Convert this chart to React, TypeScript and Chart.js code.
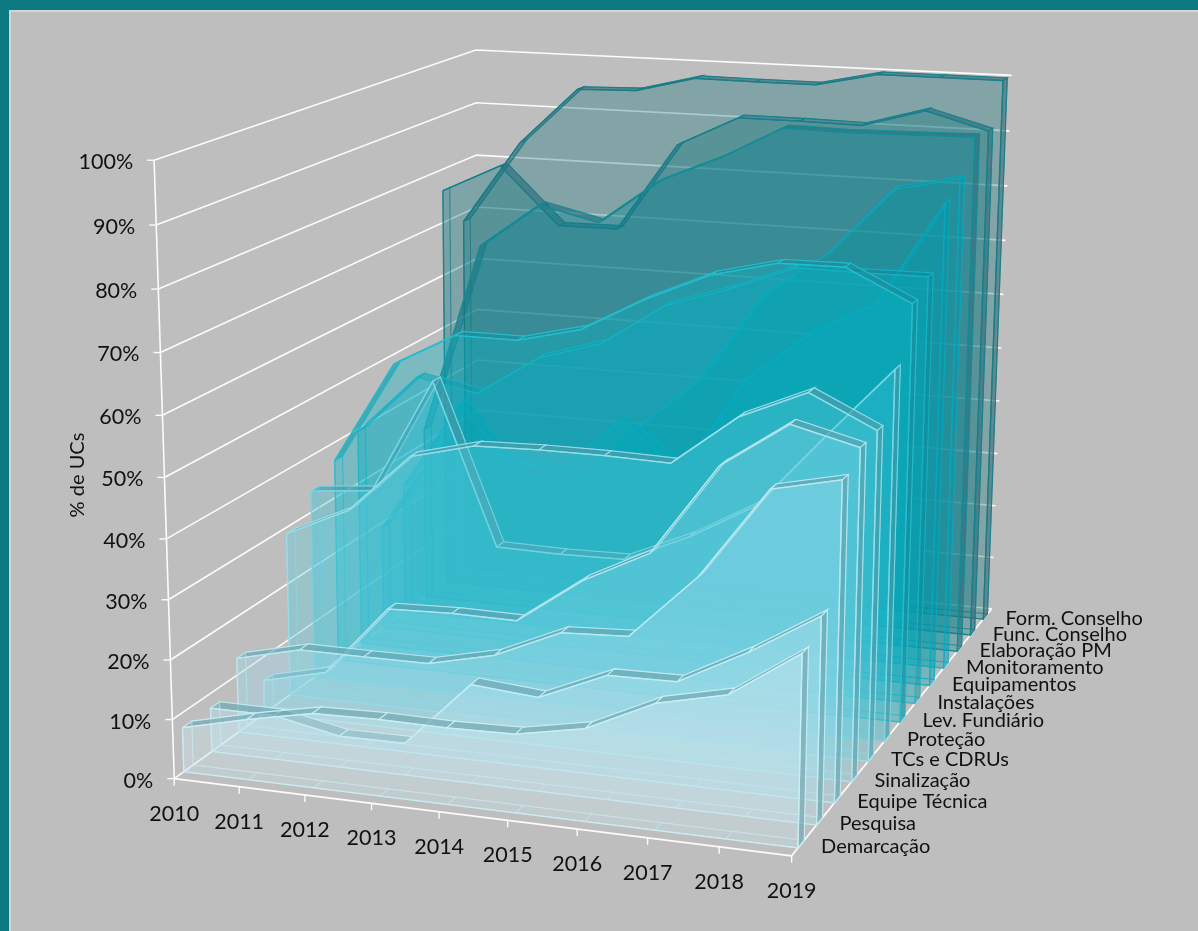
import React, { useEffect, useRef } from "react";
import { Chart, registerables } from "chart.js";

Chart.register(...registerables);

// Years on the front axis and depth-axis categories, front to back.
const years = ["2010", "2011", "2012", "2013", "2014", "2015", "2016", "2017", "2018", "2019"];
const percentTicks = [0, 10, 20, 30, 40, 50, 60, 70, 80, 90, 100];

const demarcacao = [7.5, 10.2, 12.5, 12.8, 12.7, 13, 15.2, 20.6, 23.2, 31];
const pesquisa = [7.5, 7.5, 5.3, 5.4, 16.6, 15.7, 20.6, 20.8, 26.8, 33.8];
const equipeTecnica = [12.9, 15.6, 15.6, 15.7, 18.3, 23.3, 23.9, 34.9, 50.1, 52.6];
const sinalizacao = [5.8, 8.5, 20.8, 21.2, 21.1, 29.1, 34.8, 50.3, 58, 55.2];
const tcsCdrus = [28.9, 34, 44.4, 47.2, 47.5, 47.5, 47.2, 55.9, 60.8, 55.5];
const protecao = [33.8, 34.9, 55, 27, 26.8, 27, 32, 38.4, 51, 63.2];
const levFundiario = [36.7, 54.9, 60.8, 60.8, 63.5, 69.5, 74.4, 77.1, 77.2, 71.9];
const instalacoes = [39.5, 50.3, 48.3, 55.5, 58.9, 66.3, 70, 74.4, 74.3, 74.4];
const equipamentos = [19, 35.4, 34.7, 32.5, 42.9, 34.5, 52, 61, 66.8, 85];
const monitoramento = [24.4, 41, 27.2, 28.6, 39.2, 48.9, 65, 73, 84.9, 87.4];
const elaboracaoPm = [32.6, 68.2, 76.4, 73.9, 82.1, 86.9, 92.8, 92.6, 92.8, 93];
const funcConselho = [76, 81.3, 70.8, 70.9, 87, 92.5, 92.5, 92.3, 95.5, 92.5];
const formConselho = [68.4, 84, 94.6, 94.9, 97.7, 97.6, 97.6, 100, 100, 100];

const seriesNames = [
  "Demarcação", "Pesquisa", "Equipe Técnica", "Sinalização", "TCs e CDRUs", "Proteção",
  "Lev. Fundiário", "Instalações", "Equipamentos", "Monitoramento", "Elaboração PM",
  "Func. Conselho", "Form. Conselho",
];
const seriesValues = [
  demarcacao, pesquisa, equipeTecnica, sinalizacao, tcsCdrus, protecao, levFundiario,
  instalacoes, equipamentos, monitoramento, elaboracaoPm, funcConselho, formConselho,
];

// Face tints, edge tints and roof tints per series, front to back.
const faceRgb = [
  "205,232,240", "185,228,238", "160,222,234", "130,215,230", "95,205,222", "60,195,215", "10,180,200",
  "0,170,190", "0,160,180", "0,150,168", "5,130,145", "15,120,130", "30,120,125",
];
const edgeRgb = [
  "200,238,245", "195,236,243", "185,232,240", "175,228,238", "150,222,234", "120,215,228", "35,190,205",
  "20,185,200", "0,175,195", "0,175,195", "20,140,150", "20,130,140", "25,125,135",
];
const roofRgb = [
  "105,160,170", "100,160,170", "95,160,172", "90,160,172", "80,155,170", "70,150,165", "30,140,155",
  "20,135,150", "10,150,170", "10,150,170", "40,110,125", "50,105,120", "50,105,120",
];

const WIDTH = 1198;
const HEIGHT = 931;

// Perspective calibration of the plot cube: [pixel x, pixel y, year axis, depth axis, value axis].
const cubeCorners = [
  [175, 772, 0, 0, 0],
  [793, 861, 1, 0, 0],
  [992, 603, 1, 1, 0],
  [477, 565, 0, 1, 0],
  [152, 162, 0, 0, 1],
  [479, 47, 0, 1, 1],
  [1010, 77, 1, 1, 1],
];

function solve(a: number[][], b: number[]) {
  const n = b.length;
  const m = a.map((r, i) => [...r, b[i]]);
  for (let c = 0; c < n; c++) {
    let p = c;
    for (let r = c + 1; r < n; r++) if (Math.abs(m[r][c]) > Math.abs(m[p][c])) p = r;
    [m[c], m[p]] = [m[p], m[c]];
    for (let r = 0; r < n; r++) {
      if (r === c) continue;
      const f = m[r][c] / m[c][c];
      for (let k = c; k <= n; k++) m[r][k] -= f * m[c][k];
    }
  }
  return m.map((r, i) => r[n] / r[i]);
}

function fitCamera() {
  const rows: number[][] = [];
  const rhs: number[] = [];
  for (const [px, py, u, v, s] of cubeCorners) {
    const x = px / 1000;
    const y = py / 1000;
    rows.push([u, v, s, 1, 0, 0, 0, 0, -x * u, -x * v, -x * s]);
    rhs.push(x);
    rows.push([0, 0, 0, 0, u, v, s, 1, -y * u, -y * v, -y * s]);
    rhs.push(y);
  }
  const ata = Array.from({ length: 11 }, (_, i) =>
    Array.from({ length: 11 }, (_, j) => rows.reduce((t, r) => t + r[i] * r[j], 0))
  );
  const atb = Array.from({ length: 11 }, (_, i) => rows.reduce((t, r, k) => t + r[i] * rhs[k], 0));
  return solve(ata, atb);
}

const cam = fitCamera();

// Maps (year fraction, depth fraction, value fraction) onto the hidden pixel-space scales.
function project(u: number, v: number, s: number) {
  const w = cam[8] * u + cam[9] * v + cam[10] * s + 1;
  return {
    x: (1000 * (cam[0] * u + cam[1] * v + cam[2] * s + cam[3])) / w,
    y: (1000 * (cam[4] * u + cam[5] * v + cam[6] * s + cam[7])) / w,
  };
}

const count = years.length - 1;
const seriesCount = seriesNames.length;

function buildDatasets() {
  const out: any[] = [];
  let order = 100000;
  const poly = (label: string, pts: any[], fillColor: string | null, stroke: string, width: number) => {
    out.push({
      label,
      data: pts,
      fill: fillColor ? "shape" : false,
      backgroundColor: fillColor ?? "transparent",
      borderColor: stroke,
      borderWidth: width,
      pointRadius: 0,
      tension: 0,
      order: order--,
    });
  };
  const white = "rgba(255,255,255,0.95)";

  // Wall gridlines.
  percentTicks.forEach((t) => {
    const s = t / 100;
    poly(`parede ${t}`, [project(0, 0, s), project(0, 1, s), project(1, 1, s)], null, white, 1.6);
  });
  poly("eixo valores", [project(0, 0, 0), project(0, 0, 1)], null, white, 1.6);
  poly("eixo anos", [project(0, 0, 0), project(1, 0, 0)], null, white, 1.8);
  poly("eixo series", [project(1, 0, 0), project(1, 1, 0)], null, white, 1.8);
  percentTicks.forEach((t) => {
    const p = project(0, 0, t / 100);
    poly(`marca ${t}`, [p, { x: p.x - 7, y: p.y }], null, white, 1.4);
  });
  years.forEach((yr, k) => {
    const p = project(k / count, 0, 0);
    poly(`marca ${yr}`, [p, { x: p.x, y: p.y + 7 }], null, white, 1.4);
  });

  // Series, painted from the back of the depth axis to the front.
  for (let i = seriesCount - 1; i >= 0; i--) {
    const values = seriesValues[i];
    const vf = (i + 1 / 3) / seriesCount;
    const vb = (i + 2 / 3) / seriesCount;
    const inner = i >= 7 && i <= 9;
    const edge = `rgba(${edgeRgb[i]},${inner ? 0.6 : 0.95})`;
    const edgeSoft = `rgba(${edgeRgb[i]},0.5)`;
    const face = `rgba(${faceRgb[i]},0.26)`;
    const backFace = `rgba(${faceRgb[i]},0.14)`;
    const roof = `rgba(${roofRgb[i]},${inner ? 0.4 : 0.6})`;
    const name = seriesNames[i];
    const top = (k: number, v: number) => project(k / count, v, values[k] / 100);
    const base = (k: number, v: number) => project(k / count, v, 0);
    const outline = (v: number) => {
      const pts = values.map((_, k) => top(k, v));
      pts.push(base(count, v), base(0, v), top(0, v));
      return pts;
    };

    for (let k = 0; k < count; k++) {
      poly(`${name} piso ${k}`, [base(k, vf), base(k + 1, vf), base(k + 1, vb), base(k, vb), base(k, vf)],
        `rgba(${faceRgb[i]},0.1)`, edgeSoft, 1);
    }
    poly(`${name} fundo`, outline(vb), backFace, edgeSoft, 1);
    for (let k = 0; k < count; k++) {
      poly(`${name} topo ${k}`, [top(k, vf), top(k + 1, vf), top(k + 1, vb), top(k, vb), top(k, vf)], roof, edge, 1.1);
    }
    poly(`${name} lateral direita`, [top(count, vf), top(count, vb), base(count, vb), base(count, vf), top(count, vf)], roof, edge, 1.1);
    poly(`${name} lateral esquerda`, [top(0, vf), top(0, vb), base(0, vb), base(0, vf), top(0, vf)], `rgba(${faceRgb[i]},0.2)`, edgeSoft, 1);
    poly(`${name} frente`, outline(vf), face, edge, 1.4);
  }
  return out;
}

const textFont = "Lato";

// Page background and all axis text, placed through the same projection as the marks.
const framePlugin = {
  id: "frame",
  beforeDraw(chart: any) {
    const { ctx } = chart;
    ctx.save();
    ctx.fillStyle = "#0b7a80";
    ctx.fillRect(0, 0, WIDTH, HEIGHT);
    ctx.fillStyle = "#d4d4d4";
    ctx.fillRect(9, 10, WIDTH - 9, HEIGHT - 10);
    ctx.fillStyle = "#bebebe";
    ctx.fillRect(11, 12, WIDTH - 11, HEIGHT - 12);
    ctx.restore();
  },
  afterDraw(chart: any) {
    const { ctx } = chart;
    ctx.save();
    ctx.fillStyle = "#111";
    ctx.textBaseline = "middle";

    ctx.font = `21.5px ${textFont}`;
    ctx.textAlign = "right";
    percentTicks.forEach((t) => {
      const p = project(0, 0, t / 100);
      ctx.fillText(`${t}%`, p.x - 21, p.y + 2);
    });

    ctx.textAlign = "center";
    years.forEach((yr, k) => {
      const p = project(k / count, 0, 0);
      ctx.fillText(yr, p.x, p.y + 35);
    });

    ctx.font = `20px ${textFont}`;
    ctx.textAlign = "left";
    seriesNames.forEach((name, i) => {
      const p = project(1, (i + 0.5) / seriesCount, 0);
      ctx.fillText(name, p.x + 20, p.y + 2);
    });

    ctx.translate(78, 475);
    ctx.rotate(-Math.PI / 2);
    ctx.textAlign = "center";
    ctx.font = `20px ${textFont}`;
    ctx.fillText("% de UCs", 0, 0);
    ctx.restore();
  },
};

export default function App() {
  const ref = useRef<HTMLCanvasElement>(null);
  useEffect(() => {
    const chart = new Chart(ref.current as HTMLCanvasElement, {
      type: "line",
      data: { datasets: buildDatasets() },
      options: {
        animation: false,
        responsive: false,
        maintainAspectRatio: false,
        parsing: true,
        layout: { padding: 0 },
        plugins: { legend: { display: false }, tooltip: { enabled: false } },
        events: [],
        scales: {
          x: { type: "linear", min: 0, max: WIDTH, display: false },
          y: { type: "linear", min: 0, max: HEIGHT, reverse: true, display: false },
        },
      },
      plugins: [framePlugin],
    } as any);
    return () => chart.destroy();
  }, []);
  return (
    <div style={{ position: "fixed", left: 0, top: 0, width: WIDTH, height: HEIGHT, overflow: "hidden" }}>
      <canvas ref={ref} width={WIDTH} height={HEIGHT} style={{ display: "block" }} />
    </div>
  );
}
